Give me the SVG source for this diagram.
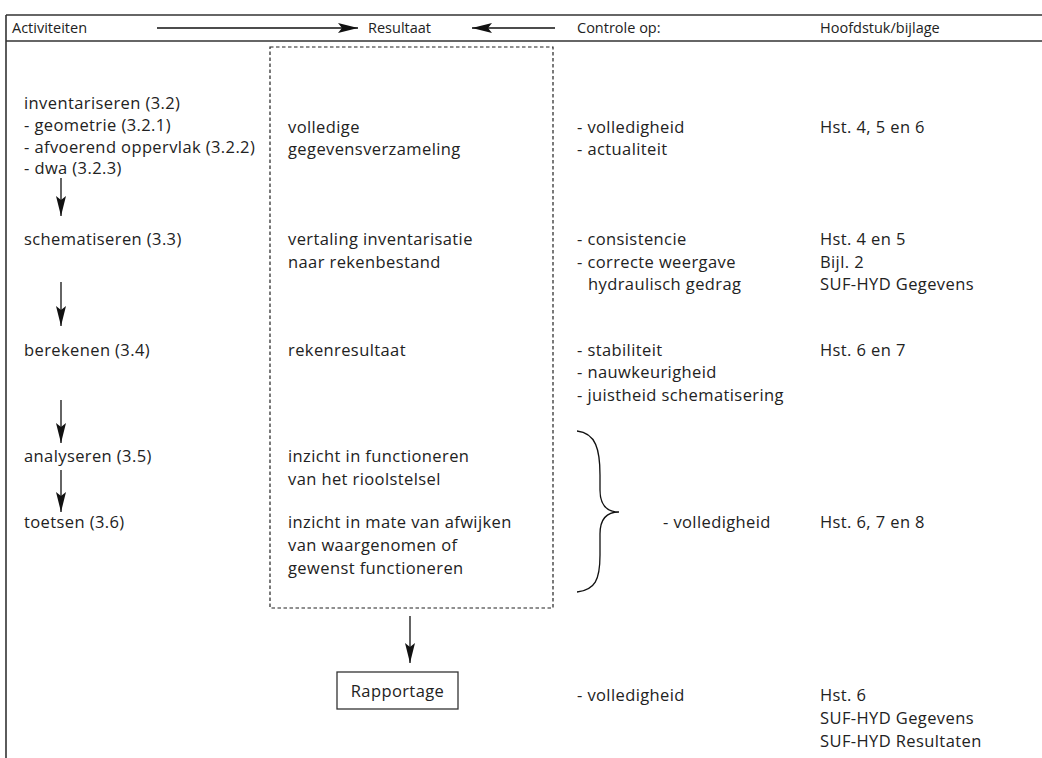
<svg xmlns="http://www.w3.org/2000/svg" width="1042" height="758" viewBox="0 0 1042 758">
<defs>
<marker id="ah" viewBox="0 0 20 10" refX="20" refY="5" markerWidth="20" markerHeight="10" markerUnits="userSpaceOnUse" orient="auto">
<path d="M0,0 L20,5 L0,10 L4,5 Z" fill="#111"/>
</marker>
</defs>
<style>
text{font-family:"Open Sans","Noto Sans",sans-serif;font-size:16.5px;letter-spacing:0.4px;fill:#222}
.hd{font-size:14.5px;letter-spacing:0}
.frame{stroke:#333;stroke-width:1.6;fill:none}
.conn{stroke:#111;stroke-width:1.3;fill:none}
.dash{stroke:#222;stroke-width:1.2;fill:none;stroke-dasharray:3.5,2.5}
</style>
<rect width="1042" height="758" fill="#fff"/>
<g id="frame">
<line class="frame" x1="6" y1="15" x2="1042" y2="15"/>
<line class="frame" x1="6" y1="41" x2="1042" y2="41"/>
<line class="frame" x1="6" y1="15" x2="6" y2="758"/>
</g>
<g id="header">
<text class="hd" x="12" y="33">Activiteiten</text>
<text class="hd" x="368" y="33">Resultaat</text>
<text class="hd" x="577" y="33">Controle op:</text>
<text class="hd" x="820" y="33">Hoofdstuk/bijlage</text>
</g>
<g id="connectors">
<line class="conn" x1="157" y1="28" x2="358" y2="28" marker-end="url(#ah)"/>
<line class="conn" x1="555" y1="28" x2="472" y2="28" marker-end="url(#ah)"/>
<line class="conn" x1="61" y1="178" x2="61" y2="216" marker-end="url(#ah)"/>
<line class="conn" x1="61" y1="282" x2="61" y2="326" marker-end="url(#ah)"/>
<line class="conn" x1="61" y1="400" x2="61" y2="443" marker-end="url(#ah)"/>
<line class="conn" x1="61" y1="470" x2="61" y2="512" marker-end="url(#ah)"/>
<line class="conn" x1="410" y1="616" x2="410" y2="663" marker-end="url(#ah)"/>
<path class="conn" d="M577,431 C596,433 600,450 600,475 L600,490 C600,505 607,512 619,512 C607,512 600,519 600,534 L600,555 C600,580 595,590 577,592"/>
</g>
<g id="activities">
<text x="24" y="109">inventariseren (3.2)</text>
<text x="24" y="131">- geometrie (3.2.1)</text>
<text x="24" y="153">- afvoerend oppervlak (3.2.2)</text>
<text x="24" y="174">- dwa (3.2.3)</text>
<text x="24" y="245">schematiseren (3.3)</text>
<text x="24" y="356">berekenen (3.4)</text>
<text x="24" y="462">analyseren (3.5)</text>
<text x="24" y="528">toetsen (3.6)</text>
</g>
<g id="results">
<rect class="dash" x="270" y="47" width="283" height="561"/>
<text x="288" y="133">volledige</text>
<text x="288" y="155">gegevensverzameling</text>
<text x="288" y="245">vertaling inventarisatie</text>
<text x="288" y="268">naar rekenbestand</text>
<text x="288" y="356">rekenresultaat</text>
<text x="288" y="462">inzicht in functioneren</text>
<text x="288" y="485">van het rioolstelsel</text>
<text x="288" y="528">inzicht in mate van afwijken</text>
<text x="288" y="551">van waargenomen of</text>
<text x="288" y="574">gewenst functioneren</text>
</g>
<g id="rapportage">
<rect x="337" y="672" width="121" height="37" fill="#fff" stroke="#333" stroke-width="1.3"/>
<text x="397.5" y="697" text-anchor="middle">Rapportage</text>
</g>
<g id="controls">
<text x="577" y="133">- volledigheid</text>
<text x="577" y="155">- actualiteit</text>
<text x="577" y="245">- consistencie</text>
<text x="577" y="268">- correcte weergave</text>
<text x="588" y="290">hydraulisch gedrag</text>
<text x="577" y="356">- stabiliteit</text>
<text x="577" y="378">- nauwkeurigheid</text>
<text x="577" y="401">- juistheid schematisering</text>
<text x="663" y="528">- volledigheid</text>
<text x="577" y="701">- volledigheid</text>
</g>
<g id="chapters">
<text x="820" y="133">Hst. 4, 5 en 6</text>
<text x="820" y="245">Hst. 4 en 5</text>
<text x="820" y="268">Bijl. 2</text>
<text x="820" y="290">SUF-HYD Gegevens</text>
<text x="820" y="356">Hst. 6 en 7</text>
<text x="820" y="528">Hst. 6, 7 en 8</text>
<text x="820" y="701">Hst. 6</text>
<text x="820" y="724">SUF-HYD Gegevens</text>
<text x="820" y="747">SUF-HYD Resultaten</text>
</g>
</svg>
